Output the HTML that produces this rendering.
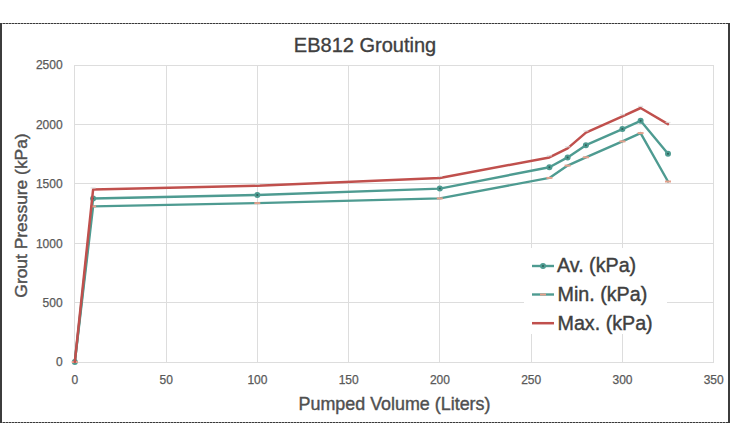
<!DOCTYPE html>
<html><head><meta charset="utf-8"><style>
html,body{margin:0;padding:0;background:#fff;width:730px;height:446px;overflow:hidden}
svg{display:block;font-family:"Liberation Sans",sans-serif}
</style></head><body>
<svg width="730" height="446" viewBox="0 0 730 446">
<rect x="0" y="0" width="730" height="446" fill="#fff"/>
<g stroke="#DDDDDD" stroke-width="1" shape-rendering="crispEdges"><line x1="74.8" y1="362.0" x2="713.6" y2="362.0"/><line x1="74.8" y1="302.6" x2="713.6" y2="302.6"/><line x1="74.8" y1="243.2" x2="713.6" y2="243.2"/><line x1="74.8" y1="183.8" x2="713.6" y2="183.8"/><line x1="74.8" y1="124.4" x2="713.6" y2="124.4"/><line x1="74.8" y1="65.0" x2="713.6" y2="65.0"/><line x1="74.8" y1="65.0" x2="74.8" y2="362"/><line x1="166.1" y1="65.0" x2="166.1" y2="362"/><line x1="257.3" y1="65.0" x2="257.3" y2="362"/><line x1="348.6" y1="65.0" x2="348.6" y2="362"/><line x1="439.8" y1="65.0" x2="439.8" y2="362"/><line x1="531.1" y1="65.0" x2="531.1" y2="362"/><line x1="622.4" y1="65.0" x2="622.4" y2="362"/><line x1="713.6" y1="65.0" x2="713.6" y2="362"/></g>
<text x="365" y="52.3" text-anchor="middle" font-size="20" fill="#404040" stroke="#404040" stroke-width="0.35">EB812 Grouting</text>
<g font-size="12" fill="#595959" stroke="#595959" stroke-width="0.25"><text x="62.6" y="366.3" text-anchor="end">0</text><text x="62.6" y="306.9" text-anchor="end">500</text><text x="62.6" y="247.5" text-anchor="end">1000</text><text x="62.6" y="188.1" text-anchor="end">1500</text><text x="62.6" y="128.7" text-anchor="end">2000</text><text x="62.6" y="69.3" text-anchor="end">2500</text><text x="74.9" y="384" text-anchor="middle">0</text><text x="166.2" y="384" text-anchor="middle">50</text><text x="257.4" y="384" text-anchor="middle">100</text><text x="348.7" y="384" text-anchor="middle">150</text><text x="439.9" y="384" text-anchor="middle">200</text><text x="531.2" y="384" text-anchor="middle">250</text><text x="622.5" y="384" text-anchor="middle">300</text><text x="713.7" y="384" text-anchor="middle">350</text></g>
<text x="394.5" y="410" text-anchor="middle" font-size="17.9" fill="#505050" stroke="#505050" stroke-width="0.4">Pumped Volume (Liters)</text>
<text transform="translate(27.3,215.5) rotate(-90)" text-anchor="middle" font-size="17.4" fill="#505050" stroke="#505050" stroke-width="0.4">Grout Pressure (kPa)</text>
<g fill="none" stroke-linejoin="round" stroke-linecap="round">
<polyline points="74.8,362.0 93.1,198.5 257.3,195.0 439.8,188.6 549.4,167.3 567.6,157.4 585.9,145.2 622.4,129.1 640.6,120.8 668.0,153.7" stroke="#4E9B91" stroke-width="2.4"/>
</g><circle cx="74.8" cy="362.0" r="3" fill="#4E9B91"/><circle cx="74.8" cy="362.0" r="1" fill="#2E5E58"/><circle cx="93.1" cy="198.5" r="3" fill="#4E9B91"/><circle cx="93.1" cy="198.5" r="1" fill="#2E5E58"/><circle cx="257.3" cy="195.0" r="3" fill="#4E9B91"/><circle cx="257.3" cy="195.0" r="1" fill="#2E5E58"/><circle cx="439.8" cy="188.6" r="3" fill="#4E9B91"/><circle cx="439.8" cy="188.6" r="1" fill="#2E5E58"/><circle cx="549.4" cy="167.3" r="3" fill="#4E9B91"/><circle cx="549.4" cy="167.3" r="1" fill="#2E5E58"/><circle cx="567.6" cy="157.4" r="3" fill="#4E9B91"/><circle cx="567.6" cy="157.4" r="1" fill="#2E5E58"/><circle cx="585.9" cy="145.2" r="3" fill="#4E9B91"/><circle cx="585.9" cy="145.2" r="1" fill="#2E5E58"/><circle cx="622.4" cy="129.1" r="3" fill="#4E9B91"/><circle cx="622.4" cy="129.1" r="1" fill="#2E5E58"/><circle cx="640.6" cy="120.8" r="3" fill="#4E9B91"/><circle cx="640.6" cy="120.8" r="1" fill="#2E5E58"/><circle cx="668.0" cy="153.7" r="3" fill="#4E9B91"/><circle cx="668.0" cy="153.7" r="1" fill="#2E5E58"/>
<g fill="none" stroke-linejoin="round" stroke-linecap="round">
<polyline points="74.8,362.0 93.1,206.4 257.3,203.1 439.8,198.4 549.4,177.9 567.6,165.6 585.9,157.3 622.4,141.4 640.6,133.1 668.0,181.5" stroke="#4E9B91" stroke-width="2.4"/>
</g><rect x="71.8" y="361.0" width="6" height="2" fill="#E4A08C"/><rect x="90.1" y="205.4" width="6" height="2" fill="#E4A08C"/><rect x="254.3" y="202.1" width="6" height="2" fill="#E4A08C"/><rect x="436.8" y="197.4" width="6" height="2" fill="#E4A08C"/><rect x="546.4" y="176.9" width="6" height="2" fill="#E4A08C"/><rect x="564.6" y="164.6" width="6" height="2" fill="#E4A08C"/><rect x="582.9" y="156.3" width="6" height="2" fill="#E4A08C"/><rect x="619.4" y="140.4" width="6" height="2" fill="#E4A08C"/><rect x="637.6" y="132.1" width="6" height="2" fill="#E4A08C"/><rect x="665.0" y="180.5" width="6" height="2" fill="#E4A08C"/>
<g fill="none" stroke-linejoin="round" stroke-linecap="round">
<polyline points="74.8,362.0 93.1,189.6 257.3,185.7 439.8,178.1 549.4,157.4 567.6,148.4 585.9,132.6 622.4,116.3 640.6,108.0 668.0,124.1" stroke="#C0504D" stroke-width="2.5"/>
</g><rect x="90.6" y="187.4" width="5" height="1.2" fill="#D8D8D8" opacity="0.8"/><rect x="254.8" y="183.5" width="5" height="1.2" fill="#D8D8D8" opacity="0.8"/><rect x="437.3" y="175.9" width="5" height="1.2" fill="#D8D8D8" opacity="0.8"/><rect x="546.9" y="155.2" width="5" height="1.2" fill="#D8D8D8" opacity="0.8"/><rect x="565.1" y="146.2" width="5" height="1.2" fill="#D8D8D8" opacity="0.8"/><rect x="583.4" y="130.4" width="5" height="1.2" fill="#D8D8D8" opacity="0.8"/><rect x="619.9" y="114.1" width="5" height="1.2" fill="#D8D8D8" opacity="0.8"/><rect x="638.1" y="105.8" width="5" height="1.2" fill="#D8D8D8" opacity="0.8"/><rect x="665.5" y="121.9" width="5" height="1.2" fill="#D8D8D8" opacity="0.8"/>
<rect x="524" y="248" width="143" height="86" fill="#fff"/>
<g font-size="19.7" fill="#404040" stroke="#404040" stroke-width="0.4">
<text x="557" y="272">Av. (kPa)</text>
<text x="557.5" y="300.8">Min. (kPa)</text>
<text x="557.5" y="329.6">Max. (kPa)</text>
</g>
<line x1="532" y1="266" x2="554" y2="266" stroke="#4E9B91" stroke-width="2.4"/>
<circle cx="543" cy="266" r="3" fill="#4E9B91"/><circle cx="543" cy="266" r="1" fill="#2E5E58"/>
<line x1="532" y1="294.5" x2="554" y2="294.5" stroke="#4E9B91" stroke-width="2.4"/>
<rect x="540" y="293.5" width="6" height="2" fill="#E4A08C"/>
<line x1="532" y1="323.2" x2="554" y2="323.2" stroke="#C0504D" stroke-width="2.5"/>
<g shape-rendering="crispEdges">
<line x1="0" y1="23.5" x2="730" y2="23.5" stroke="#9a9a9a" stroke-width="1"/><line x1="0" y1="23.5" x2="730" y2="23.5" stroke="#3a3a3a" stroke-width="1" stroke-dasharray="2.2 0.8"/>
<line x1="0" y1="422.5" x2="730" y2="422.5" stroke="#9a9a9a" stroke-width="1"/><line x1="0" y1="422.5" x2="730" y2="422.5" stroke="#3a3a3a" stroke-width="1" stroke-dasharray="2.2 0.8"/>
<rect x="0" y="23" width="2" height="400" fill="#3c3c3c"/>
<rect x="728" y="23" width="2" height="400" fill="#3c3c3c"/>
</g>
</svg>
</body></html>
